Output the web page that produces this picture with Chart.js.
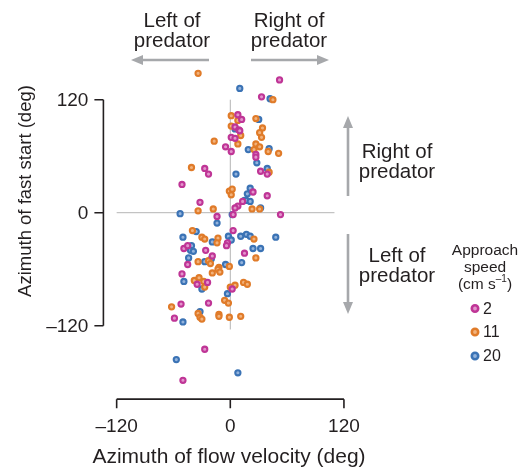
<!DOCTYPE html>
<html>
<head>
<meta charset="utf-8">
<script src="https://cdn.jsdelivr.net/npm/chart.js@4.4.1/dist/chart.umd.min.js"></script>
<style>
  body { margin: 0; background: #fff; }
  #wrap { width: 522px; height: 468px; position: relative; }
</style>
</head>
<body>
<div id="wrap"><canvas id="fastStartChart"></canvas></div>
<script>
// approach speed 2 cm/s
const speed2X = [52, 33, 8, 12, 5, 9, 10, 1, 5, -5, 1, 27, 27, -27, -23, -51, 32, 39, 24, 39, 13, 8, 5, -32, 3, 53, -14, 3, -3, -4, -49, -45, -26, 15, -19, -45, -51, -35, -24, 2, -52, -23, -59, -27, -50];
const speed2Y = [141, 123, 104, 99, 91, 88, 87, 80, 79, 70, 65, 62, 59, 47, 41, 30, 44, 41, 22, 18, 12, 7, 5, 11, -2, -2, -4, -19, -32, -35, -38, -35, -40, -43, -46, -55, -65, -76, -74, -81, -97, -96, -112, -145, -178];

// approach speed 11 cm/s
const speed11X = [-34, 45, 1, 8, 27, 1, 34, 31, 33, 11, -17, 8, 25, 27, 31, 40, 51, -41, 41, -1, 2, 1, 23, 31, -34, -18, -40, -30, -27, -13, -14, 25, 27, -34, -23, -21, -12, -13, -11, -1, -19, -38, -33, -28, -27, 0, 5, 14, 18, -6, -2, -62, -34, -32, -30, -12, -12, -1, 11];
const speed11Y = [148, 120, 103, 98, 100, 92, 90, 85, 80, 82, 76, 73, 67, 73, 70, 65, 63, 48, 43, 23, 25, 19, 4, 4, 2, 4, -19, -26, -28, -27, -32, -28, -48, -52, -51, -54, -58, -60, -63, -57, -64, -72, -69, -73, -79, -79, -77, -74, -76, -93, -96, -100, -107, -111, -113, -108, -110, -111, -110];

// approach speed 20 cm/s
const speed20X = [10, 42, 30, 5, 19, 41, 28, 39, 6, 21, 18, 15, 17, 21, 32, -53, 2, -14, -36, -50, -2, 1, -19, 11, 17, 21, 48, -41, -42, -39, 24, 32, -20, -44, -27, -5, 12, -49, -30, -3, -32, -50, -57, 8];
const speed20Y = [132, 121, 99, 89, 67, 68, 53, 47, 41, 26, 20, 13, 13, 12, 5, -1, -2, -11, -20, -26, -25, -29, -31, -25, -23, -25, -26, -35, -40, -41, -38, -38, -49, -48, -52, -55, -53, -73, -81, -86, -105, -116, -156, -170];

const speedLabels = ["2", "11", "20"];
const speedColors = ["#bf3596", "#e07b29", "#3b73b5"];
const speedFills = ["#e394cc", "#f1b27c", "#93b3dc"];

const xTicks = [-120, 0, 120];
const yTicks = [-120, 0, 120];

const fontFamily = "'Liberation Sans', Arial, sans-serif";
const textColor = "#231f20";
const arrowColor = "#a6a8ab";

function toPoints(arrX, arrY) {
  let pts = [];
  arrX.forEach((x, i) => {
    pts.push({ x: x, y: arrY[i] });
  });
  return pts;
}

function fmtTick(v) {
  return v < 0 ? "\u2013" + Math.abs(v) : String(v);
}

function drawText(ctx, text, x, y, size, align, baseline) {
  ctx.font = size + "px " + fontFamily;
  ctx.textAlign = align || "center";
  ctx.textBaseline = baseline || "alphabetic";
  ctx.fillStyle = textColor;
  ctx.fillText(text, x, y);
}

function drawArrow(ctx, x1, y1, x2, y2) {
  // shaft from (x1,y1) to the tip (x2,y2)
  const ang = Math.atan2(y2 - y1, x2 - x1);
  const headLen = 12, headHalf = 5;
  const bx = x2 - headLen * Math.cos(ang), by = y2 - headLen * Math.sin(ang);
  ctx.strokeStyle = arrowColor;
  ctx.fillStyle = arrowColor;
  ctx.lineWidth = 2.6;
  ctx.beginPath();
  ctx.moveTo(x1, y1);
  ctx.lineTo(bx, by);
  ctx.stroke();
  ctx.beginPath();
  ctx.moveTo(x2, y2);
  ctx.lineTo(bx + headHalf * Math.sin(ang), by - headHalf * Math.cos(ang));
  ctx.lineTo(bx - headHalf * Math.sin(ang), by + headHalf * Math.cos(ang));
  ctx.closePath();
  ctx.fill();
}

const decorPlugin = {
  id: "decor",
  beforeDatasetsDraw(chart) {
    const ctx = chart.ctx, xs = chart.scales.x, ys = chart.scales.y;
    ctx.save();
    ctx.strokeStyle = "#b5b5b5";
    ctx.lineWidth = 1;
    ctx.beginPath();
    ctx.moveTo(xs.getPixelForValue(-120), ys.getPixelForValue(0));
    ctx.lineTo(xs.getPixelForValue(110), ys.getPixelForValue(0));
    ctx.moveTo(xs.getPixelForValue(0), ys.getPixelForValue(120));
    ctx.lineTo(xs.getPixelForValue(0), ys.getPixelForValue(-124));
    ctx.stroke();
    ctx.restore();
  },
  afterDraw(chart) {
    const ctx = chart.ctx, xs = chart.scales.x, ys = chart.scales.y;
    ctx.save();

    // range-frame axes
    const axisX = xs.getPixelForValue(-134);
    const axisY = ys.getPixelForValue(-198);
    ctx.strokeStyle = "#231f20";
    ctx.lineWidth = 1.6;
    ctx.beginPath();
    ctx.moveTo(axisX, ys.getPixelForValue(yTicks[0]));
    ctx.lineTo(axisX, ys.getPixelForValue(yTicks[yTicks.length - 1]));
    ctx.moveTo(xs.getPixelForValue(xTicks[0]), axisY);
    ctx.lineTo(xs.getPixelForValue(xTicks[xTicks.length - 1]), axisY);
    yTicks.forEach((t) => {
      const py = ys.getPixelForValue(t);
      ctx.moveTo(axisX, py);
      ctx.lineTo(axisX - 9, py);
    });
    xTicks.forEach((t) => {
      const px = xs.getPixelForValue(t);
      ctx.moveTo(px, axisY);
      ctx.lineTo(px, axisY + 9);
    });
    ctx.stroke();

    yTicks.forEach((t) => {
      drawText(ctx, fmtTick(t), axisX - 15, ys.getPixelForValue(t) + 1, 19, "right", "middle");
    });
    xTicks.forEach((t) => {
      drawText(ctx, fmtTick(t), xs.getPixelForValue(t), axisY + 28, 19, "center", "middle");
    });

    // axis titles
    drawText(ctx, "Azimuth of flow velocity (deg)", 229, 463, 21, "center");
    ctx.save();
    ctx.translate(31, 191);
    ctx.rotate(-Math.PI / 2);
    drawText(ctx, "Azimuth of fast start (deg)", 0, 0, 18.5, "center");
    ctx.restore();

    // side annotations
    drawText(ctx, "Left of", 172, 27, 20.5, "center");
    drawText(ctx, "predator", 172, 46.5, 20.5, "center");
    drawText(ctx, "Right of", 289, 27, 20.5, "center");
    drawText(ctx, "predator", 289, 46.5, 20.5, "center");
    drawArrow(ctx, 209, 60, 131, 60);
    drawArrow(ctx, 251, 60, 329, 60);

    drawText(ctx, "Right of", 397, 158, 20.5, "center");
    drawText(ctx, "predator", 397, 177.5, 20.5, "center");
    drawText(ctx, "Left of", 397, 262, 20.5, "center");
    drawText(ctx, "predator", 397, 281.5, 20.5, "center");
    drawArrow(ctx, 348, 196, 348, 116);
    drawArrow(ctx, 348, 234, 348, 314);

    // legend
    drawText(ctx, "Approach", 485, 255, 15.5, "center");
    drawText(ctx, "speed", 485, 272, 15.5, "center");
    ctx.font = "15.5px " + fontFamily;
    const w1 = ctx.measureText("(cm s").width;
    ctx.font = "10px " + fontFamily;
    const w2 = ctx.measureText("\u20131").width;
    ctx.font = "15.5px " + fontFamily;
    const w3 = ctx.measureText(")").width;
    let lx = 485 - (w1 + w2 + w3) / 2;
    drawText(ctx, "(cm s", lx, 289, 15.5, "left");
    drawText(ctx, "\u20131", lx + w1, 282, 10, "left");
    drawText(ctx, ")", lx + w1 + w2, 289, 15.5, "left");

    const legendY = [308.5, 332, 356];
    speedLabels.forEach((lbl, i) => {
      ctx.beginPath();
      ctx.arc(475, legendY[i], 3.2, 0, Math.PI * 2);
      ctx.fillStyle = speedFills[i];
      ctx.fill();
      ctx.lineWidth = 2.6;
      ctx.strokeStyle = speedColors[i];
      ctx.stroke();
      drawText(ctx, lbl, 483, legendY[i] + 1, 16, "left", "middle");
    });

    ctx.restore();
  },
};

function createFastStartChart() {
  const canvas = document.getElementById("fastStartChart");
  const seriesX = [speed2X, speed11X, speed20X];
  const seriesY = [speed2Y, speed11Y, speed20Y];
  let datasets = [];
  speedLabels.forEach((lbl, i) => {
    datasets.push({
      label: lbl,
      data: toPoints(seriesX[i], seriesY[i]),
      backgroundColor: speedFills[i],
      borderColor: speedColors[i],
      borderWidth: 2.1,
      pointRadius: 2.6,
    });
  });

  window.fastStartChart = new Chart(canvas, {
    type: "scatter",
    plugins: [decorPlugin],
    data: { datasets: datasets },
    options: {
      responsive: true,
      maintainAspectRatio: false,
      animation: false,
      events: [],
      layout: {
        padding: { left: 107.19, right: 168.59, top: 66.74, bottom: 81.09 },
      },
      scales: {
        x: { type: "linear", min: -130, max: 130, display: false },
        y: { type: "linear", min: -185, max: 155, display: false },
      },
      plugins: {
        legend: { display: false },
        tooltip: { enabled: false },
      },
    },
  });
}

createFastStartChart();
</script>
</body>
</html>
